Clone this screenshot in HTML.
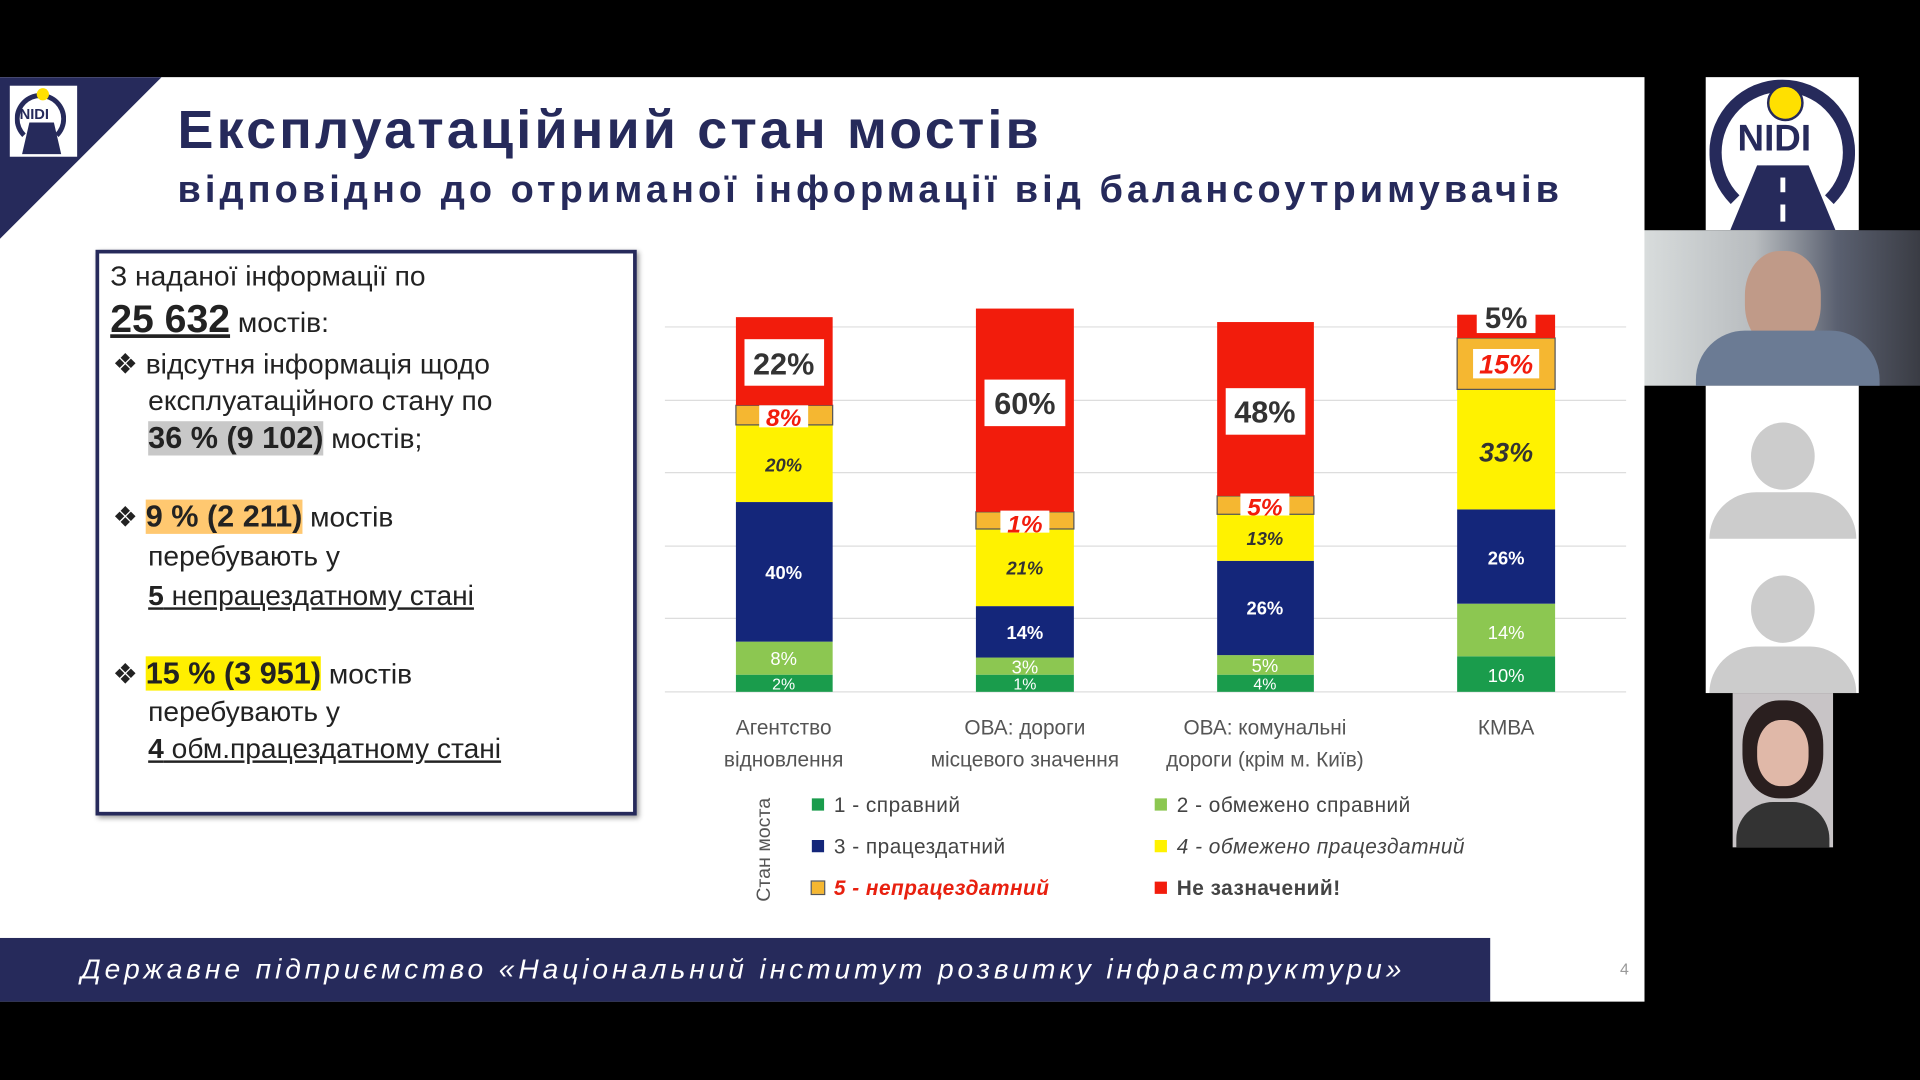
<!DOCTYPE html>
<html><head><meta charset="utf-8"><style>
html,body{margin:0;padding:0;background:#000;width:1920px;height:1080px;overflow:hidden}
#w{position:absolute;left:0;top:0;width:1568px;height:882px;transform:scale(1.22449);transform-origin:0 0;font-family:"Liberation Sans","DejaVu Sans",sans-serif}
.a{position:absolute}
.t{color:#222;font-size:23px;white-space:nowrap}
.xl{position:absolute;width:200px;text-align:center;color:#555;font-size:17px;line-height:26px}
.lg{position:absolute;font-size:17px;color:#444;white-space:nowrap;letter-spacing:0.4px}
.sq{display:inline-block;width:10px;height:10px;margin-right:8px;vertical-align:1px}
</style></head><body><div id="w">
<div class="a" style="left:0;top:63px;width:1343px;height:755px;background:#fff"></div>
<svg class="a" style="left:0;top:63px" width="140" height="135"><polygon points="0,0 132,0 0,132" fill="#262a5b"/></svg>
<div class="a" style="left:8px;top:70px;width:55px;height:58px;background:#fff"></div>
<div class="a" style="left:12px;top:76px;width:42px;height:42px;border:4px solid #262a5b;border-bottom-color:transparent;border-radius:50%;box-sizing:border-box"></div>
<div class="a" style="left:16px;top:86px;font-size:12px;font-weight:bold;color:#262a5b">NIDI</div>
<div class="a" style="left:30px;top:72px;width:10px;height:10px;border-radius:50%;background:#ffe000"></div>
<svg class="a" style="left:16px;top:100px" width="36" height="26"><polygon points="8,0 28,0 34,26 2,26" fill="#262a5b"/></svg>
<div class="a" style="left:145px;top:82px;font-size:44px;font-weight:bold;color:#262a5b;white-space:nowrap;letter-spacing:2.6px">Експлуатаційний стан мостів</div>
<div class="a" style="left:145px;top:137px;font-size:31px;font-weight:bold;color:#262a5b;white-space:nowrap;letter-spacing:3.3px">відповідно до отриманої інформації від балансоутримувачів</div>

<div class="a" style="left:78px;top:204px;width:442px;height:462px;border:3px solid #262a5b;box-sizing:border-box;box-shadow:2px 2px 4px #999"></div>
<div class="a t" style="left:90px;top:212px">З наданої інформації по</div>
<div class="a t" style="left:90px;top:242px"><b style="font-size:32px;text-decoration:underline">25 632</b> мостів:</div>
<div class="a t" style="left:92px;top:284px">❖ відсутня інформація щодо</div>
<div class="a t" style="left:121px;top:314px">експлуатаційного стану по</div>
<div class="a t" style="left:121px;top:344px"><b style="background:#c8c8c8;font-size:25px">36 % (9 102)</b> мостів;</div>
<div class="a t" style="left:92px;top:408px">❖ <b style="background:#ffc870;font-size:25px">9 % (2 211)</b> мостів</div>
<div class="a t" style="left:121px;top:441px">перебувають у</div>
<div class="a t" style="left:121px;top:473px;text-decoration:underline"><b>5</b> непрацездатному стані</div>
<div class="a t" style="left:92px;top:536px">❖ <b style="background:#ffef00;font-size:25px">15 % (3 951)</b> мостів</div>
<div class="a t" style="left:121px;top:568px">перебувають у</div>
<div class="a t" style="left:121px;top:598px;text-decoration:underline"><b>4</b> обм.працездатному стані</div>

<svg class="a" style="left:0;top:0" width="1343" height="818">
<g stroke="#ddd" stroke-width="1"><line x1="543" x2="1328" y1="267" y2="267"/><line x1="543" x2="1328" y1="327" y2="327"/><line x1="543" x2="1328" y1="386" y2="386"/><line x1="543" x2="1328" y1="446" y2="446"/><line x1="543" x2="1328" y1="505" y2="505"/><line x1="543" x2="1328" y1="565" y2="565"/></g>
<g>
<rect x="601" y="551" width="79" height="14" fill="#1a9c4c"/><rect x="601" y="524" width="79" height="27" fill="#8cc751"/><rect x="601" y="410" width="79" height="114" fill="#14267a"/><rect x="601" y="347" width="79" height="63" fill="#fff200"/><rect x="601" y="331" width="79" height="16" fill="#f5b731" stroke="#555"/><rect x="601" y="259" width="79" height="72" fill="#f21c0c"/>
<rect x="797" y="551" width="80" height="14" fill="#1a9c4c"/><rect x="797" y="537" width="80" height="14" fill="#8cc751"/><rect x="797" y="495" width="80" height="42" fill="#14267a"/><rect x="797" y="432" width="80" height="63" fill="#fff200"/><rect x="797" y="418" width="80" height="14" fill="#f5b731" stroke="#555"/><rect x="797" y="252" width="80" height="166" fill="#f21c0c"/>
<rect x="994" y="551" width="79" height="14" fill="#1a9c4c"/><rect x="994" y="535" width="79" height="16" fill="#8cc751"/><rect x="994" y="458" width="79" height="77" fill="#14267a"/><rect x="994" y="420" width="79" height="38" fill="#fff200"/><rect x="994" y="405" width="79" height="15" fill="#f5b731" stroke="#555"/><rect x="994" y="263" width="79" height="142" fill="#f21c0c"/>
<rect x="1190" y="536" width="80" height="29" fill="#1a9c4c"/><rect x="1190" y="493" width="80" height="43" fill="#8cc751"/><rect x="1190" y="416" width="80" height="77" fill="#14267a"/><rect x="1190" y="318" width="80" height="98" fill="#fff200"/><rect x="1190" y="276" width="80" height="42" fill="#f5b731" stroke="#555"/><rect x="1190" y="257" width="80" height="19" fill="#f21c0c"/>
</g>
<g font-family="Liberation Sans,sans-serif" font-weight="bold" text-anchor="middle" font-size="15">
<text x="640" y="563" fill="#fff" font-weight="normal" font-size="13">2%</text><text x="640" y="543" fill="#fff" font-weight="normal">8%</text><text x="640" y="473" fill="#fff">40%</text><text x="640" y="385" fill="#333" font-style="italic">20%</text>
<text x="837" y="563" fill="#fff" font-weight="normal" font-size="13">1%</text><text x="837" y="550" fill="#fff" font-weight="normal">3%</text><text x="837" y="522" fill="#fff">14%</text><text x="837" y="469" fill="#333" font-style="italic">21%</text>
<text x="1033" y="563" fill="#fff" font-weight="normal" font-size="13">4%</text><text x="1033" y="549" fill="#fff" font-weight="normal">5%</text><text x="1033" y="502" fill="#fff">26%</text><text x="1033" y="445" fill="#333" font-style="italic">13%</text>
<text x="1230" y="557" fill="#fff" font-weight="normal">10%</text><text x="1230" y="522" fill="#fff" font-weight="normal">14%</text><text x="1230" y="461" fill="#fff">26%</text><text x="1230" y="377" fill="#333" font-style="italic" font-size="22">33%</text>
</g>
<g font-family="Liberation Sans,sans-serif" font-weight="bold" text-anchor="middle">
<rect x="608" y="277" width="65" height="38" fill="#fff"/><text x="640" y="306" font-size="25" fill="#333">22%</text>
<rect x="620" y="331" width="40" height="18" fill="#fff"/><text x="640" y="348" font-size="20" fill="#f21c0c" font-style="italic">8%</text>
<rect x="804" y="310" width="66" height="38" fill="#fff"/><text x="837" y="338" font-size="25" fill="#333">60%</text>
<rect x="817" y="417" width="40" height="18" fill="#fff"/><text x="837" y="435" font-size="20" fill="#f21c0c" font-style="italic">1%</text>
<rect x="1001" y="317" width="65" height="38" fill="#fff"/><text x="1033" y="345" font-size="25" fill="#333">48%</text>
<rect x="1013" y="403" width="40" height="18" fill="#fff"/><text x="1033" y="421" font-size="20" fill="#f21c0c" font-style="italic">5%</text>
<rect x="1206" y="244" width="48" height="28" fill="#fff"/><text x="1230" y="268" font-size="24" fill="#333">5%</text>
<rect x="1203" y="285" width="54" height="24" fill="#fff"/><text x="1230" y="305" font-size="22" fill="#f21c0c" font-style="italic">15%</text>
</g>
</svg>
<div class="xl" style="left:540px;top:582px">Агентство<br>відновлення</div>
<div class="xl" style="left:737px;top:582px">ОВА: дороги<br>місцевого значення</div>
<div class="xl" style="left:933px;top:582px">ОВА: комунальні<br>дороги (крім м. Київ)</div>
<div class="xl" style="left:1130px;top:582px">КМВА</div>
<div class="a" style="left:575px;top:685px;width:100px;transform:rotate(-90deg);font-size:16px;color:#555;text-align:center">Стан моста</div>
<div class="lg" style="left:663px;top:648px"><span class="sq" style="background:#1a9c4c"></span>1 - справний</div>
<div class="lg" style="left:943px;top:648px"><span class="sq" style="background:#8cc751"></span>2 - обмежено справний</div>
<div class="lg" style="left:663px;top:682px"><span class="sq" style="background:#14267a"></span>3 - працездатний</div>
<div class="lg" style="left:943px;top:682px;font-style:italic"><span class="sq" style="background:#fff200"></span>4 - обмежено працездатний</div>
<div class="lg" style="left:663px;top:716px;color:#e8200f;font-weight:bold;font-style:italic"><span class="sq" style="background:#f5b731;outline:1px solid #555"></span>5 - непрацездатний</div>
<div class="lg" style="left:943px;top:716px;font-weight:bold"><span class="sq" style="background:#f21c0c"></span>Не зазначений!</div>

<div class="a" style="left:0;top:766px;width:1217px;height:52px;background:#262a5b"></div>
<div class="a" style="left:66px;top:778px;font-size:23px;font-style:italic;color:#fff;letter-spacing:3.2px;white-space:nowrap">Державне підприємство «Національний інститут розвитку інфраструктури»</div>
<div class="a" style="left:1323px;top:784px;font-size:13px;color:#999">4</div>

<div class="a" style="left:1393px;top:63px;width:125px;height:125px;background:#fff;overflow:hidden">
<div class="a" style="left:3px;top:2px;width:119px;height:119px;border:10px solid #262a5b;border-bottom-color:transparent;border-radius:50%;box-sizing:border-box"></div>
<div class="a" style="left:26px;top:34px;font-size:30px;font-weight:bold;color:#262a5b">NIDI</div>
<div class="a" style="left:50px;top:6px;width:26px;height:26px;border-radius:50%;background:#ffe000;border:2px solid #262a5b"></div>
<svg class="a" style="left:20px;top:72px" width="86" height="53"><polygon points="22,0 64,0 86,53 0,53" fill="#262a5b"/><rect x="41" y="10" width="4" height="12" fill="#fff"/><rect x="41" y="32" width="4" height="14" fill="#fff"/></svg>
</div>
<div class="a" style="left:1343px;top:188px;width:225px;height:127px;background:linear-gradient(90deg,#d8dcdc,#b8bcbf 40%,#5a6070 70%,#3a3c44)"></div>
<div class="a" style="left:1425px;top:205px;width:62px;height:80px;border-radius:45%;background:#c09a88"></div>
<div class="a" style="left:1385px;top:270px;width:150px;height:45px;border-radius:40px 40px 0 0;background:#6b7b94"></div>
<div class="a" style="left:1393px;top:315px;width:125px;height:251px;background:#fff"></div>
<div class="a" style="left:1430px;top:345px;width:52px;height:55px;border-radius:50%;background:#ccc"></div>
<div class="a" style="left:1396px;top:402px;width:120px;height:38px;border-radius:50px 50px 0 0;background:#ccc"></div>
<div class="a" style="left:1430px;top:470px;width:52px;height:55px;border-radius:50%;background:#ccc"></div>
<div class="a" style="left:1396px;top:528px;width:120px;height:38px;border-radius:50px 50px 0 0;background:#ccc"></div>
<div class="a" style="left:1415px;top:566px;width:82px;height:126px;background:#c8c4c6"></div>
<div class="a" style="left:1423px;top:572px;width:66px;height:80px;border-radius:45%;background:#2a1f1f"></div>
<div class="a" style="left:1435px;top:588px;width:42px;height:54px;border-radius:45%;background:#e0b8a8"></div>
<div class="a" style="left:1418px;top:655px;width:76px;height:37px;border-radius:30px 30px 0 0;background:#333"></div>
</div></body></html>
